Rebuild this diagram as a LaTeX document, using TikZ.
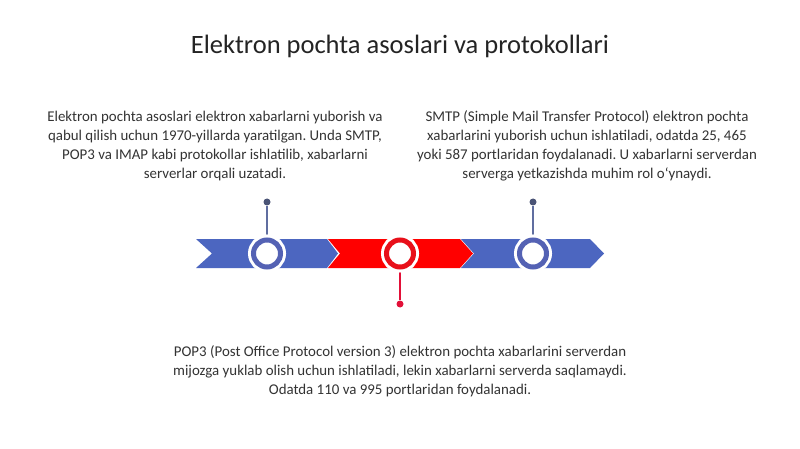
\documentclass[tikz,border=0pt]{standalone}
\usepackage{fontspec}
\setmainfont{Carlito}
\usepackage{tikz}
\frenchspacing

\definecolor{bandblue}{RGB}{76,102,192}
\definecolor{bandred}{RGB}{255,0,0}
\definecolor{ringblue}{RGB}{84,98,180}
\definecolor{ringred}{RGB}{232,16,26}
\definecolor{stemblue}{RGB}{96,110,160}
\definecolor{dotblue}{RGB}{74,84,118}
\definecolor{stemred}{RGB}{226,16,56}
\definecolor{txt}{RGB}{51,51,51}

\tikzset{
  ring/.style={circle, draw=#1, line width=5pt, fill=white, inner sep=0pt,
    minimum size=27pt, preaction={draw=white, line width=11pt}},
  pin/.style={circle, fill=#1, inner sep=0pt, minimum size=7pt},
  stem/.style={draw=#1, line width=1.5pt},
  body/.style={align=center, text=txt, font=\fontsize{14.9pt}{19pt}\selectfont}
}

\begin{document}
\begin{tikzpicture}[x=1pt,y=-1pt]
            \useasboundingbox[fill=white] (0,0) rectangle (800,449);
            % Title
            \node[text=txt!70!black, font=\fontsize{26.5pt}{30pt}\selectfont] (title) at (400,46) {Elektron pochta asoslari va protokollari};

            % Chevrons
            \fill[bandblue] (196,239) -- (327,239) -- (338,253.5) -- (327,268) -- (196,268) -- (212,253.5) -- cycle;
            \fill[bandred] (328,239) -- (460,239) -- (473,253.5) -- (460,268) -- (328,268) -- (340,253.5) -- cycle;
            \fill[bandblue] (461,239) -- (590,239) -- (604,253.5) -- (590,268) -- (461,268) -- (474,253.5) -- cycle;

            % Pins
            \node[pin=dotblue] (p1) at (267,202) {};
            \node[pin=stemred] (p2) at (400,304) {};
            \node[pin=dotblue] (p3) at (533,202) {};

            % Stems
            \draw[stem=stemblue] (267,253.5) -- (p1);
            \draw[stem=stemred] (400,253.5) -- (p2);
            \draw[stem=stemblue] (533,253.5) -- (p3);

            % Rings
            \node[ring=ringblue] (r1) at (267,253.5) {};
            \node[ring=ringred] (r2) at (400,253.5) {};
            \node[ring=ringblue] (r3) at (533,253.5) {};

            % Texts
            \node[body] (t1) at (215,146) {Elektron pochta asoslari elektron xabarlarni yuborish va\\qabul qilish uchun 1970-yillarda yaratilgan. Unda SMTP,\\POP3 va IMAP kabi protokollar ishlatilib, xabarlarni\\serverlar orqali uzatadi.};
            \node[body] (t3) at (587,146) {SMTP (Simple Mail Transfer Protocol) elektron pochta\\xabarlarini yuborish uchun ishlatiladi, odatda 25, 465\\yoki 587 portlaridan foydalanadi. U xabarlarni serverdan\\serverga yetkazishda muhim rol o‘ynaydi.};
            \node[body] (t2) at (400,371) {POP3 (Post Office Protocol version 3) elektron pochta xabarlarini serverdan\\mijozga yuklab olish uchun ishlatiladi, lekin xabarlarni serverda saqlamaydi.\\Odatda 110 va 995 portlaridan foydalanadi.};
        \end{tikzpicture}
\end{document}
